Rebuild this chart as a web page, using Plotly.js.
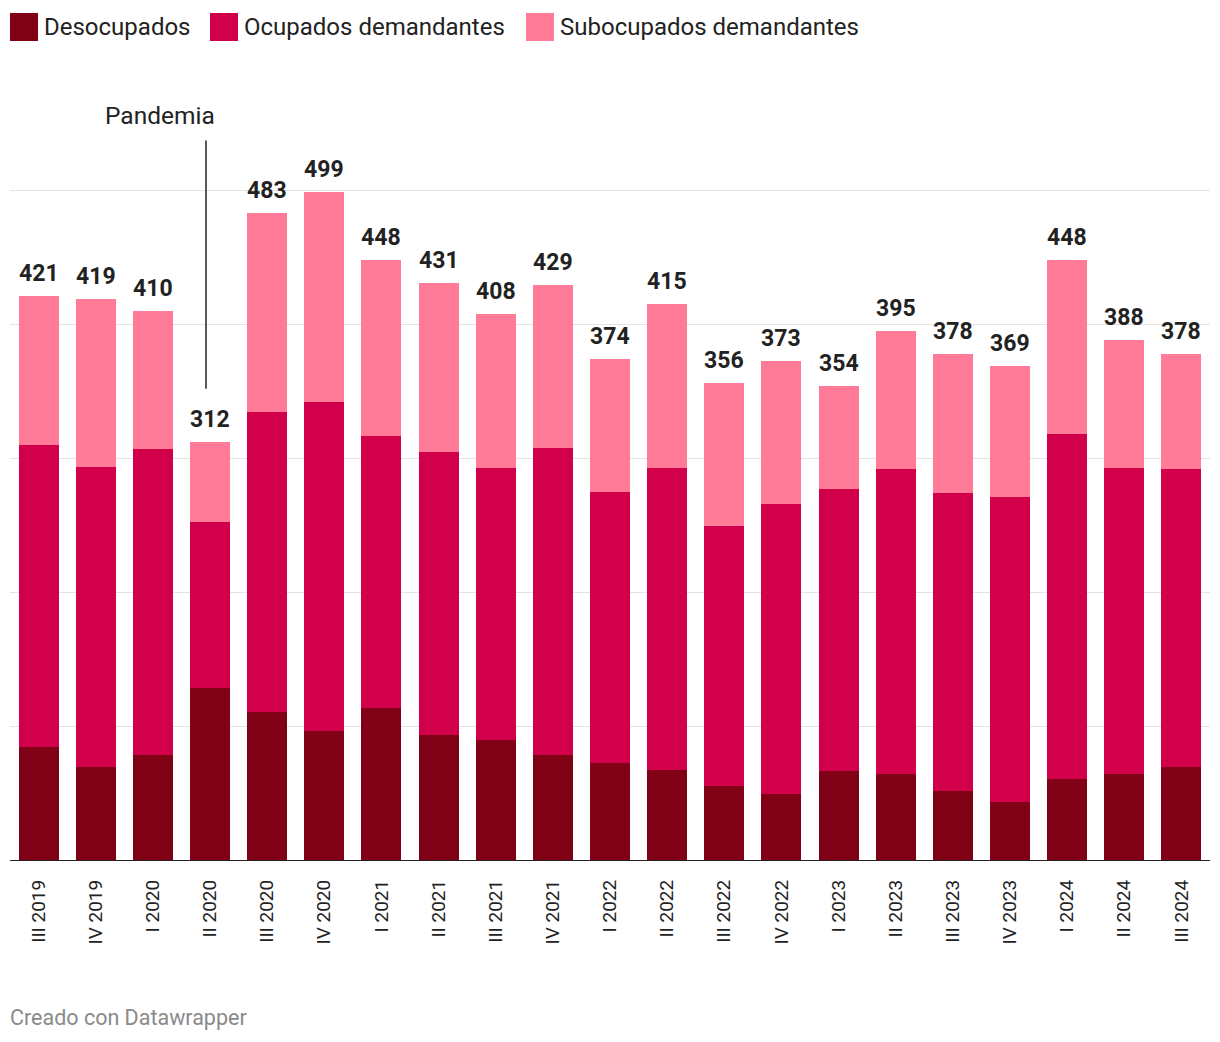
<!DOCTYPE html>
<html>
<head>
<meta charset="utf-8">
<script src="https://cdn.plot.ly/plotly-3.0.1.min.js"></script>
<style>
html,body{margin:0;padding:0;background:#fff;}
#chart{width:1220px;height:1042px;}
</style>
</head>
<body>
<div id="chart"></div>
<script>
const categories = ["III 2019","IV 2019","I 2020","II 2020","III 2020","IV 2020","I 2021","II 2021","III 2021","IV 2021","I 2022","II 2022","III 2022","IV 2022","I 2023","II 2023","III 2023","IV 2023","I 2024","II 2024","III 2024"];
const desocupados = [85,70,79,129,111,97,114,94,90,79,73,68,56,50,67,65,52,44,61,65,70];
const ocupados = [225,224,228,124,224,245,203,211,203,229,202,225,194,216,210,227,222,227,257,228,222];
const subocupados = [111,125,103,59,148,157,131,126,115,121,99,122,106,107,77,103,104,98,130,95,86];
const totals = [421,419,410,312,483,499,448,431,408,429,374,415,356,373,354,395,378,369,448,388,378];
const seriesNames = ["Desocupados","Ocupados demandantes","Subocupados demandantes"];
const seriesColors = ["#800016","#d2004b","#ff7b98"];

const x = categories.map((c,i)=>i);
const FONT = "Roboto, 'Noto Sans', sans-serif";

const traces = [desocupados, ocupados, subocupados].map((vals, k) => ({
  type: 'bar', x: x, y: vals, name: seriesNames[k],
  marker: {color: seriesColors[k], line: {width: 0}},
  hoverinfo: 'skip', showlegend: false
}));

// plot area: x 10..1210, baseline y=861, range 0..600
const L = 10, R = 1210, B = 861, T = 56;
const px2paperX = p => (p - L) / (R - L);
const px2paperY = p => (B - p) / (B - T);

const shapes = [
  {type:'line', xref:'paper', yref:'y', x0:0, x1:1, y0:0, y1:0, line:{color:'#222', width:2}, layer:'above'},
  {type:'line', xref:'x', yref:'y', x0:2.93, x1:2.93, y0:352, y1:537, line:{color:'#222', width:1.5}}
];
const annotations = [
  {xref:'x', yref:'y', x:2.12, y:556, text:'Pandemia', showarrow:false,
   font:{family:FONT, size:24.5, color:'#222'}, xanchor:'center', yanchor:'middle'},
  {xref:'paper', yref:'paper', x:px2paperX(8), y:px2paperY(1017), text:'Creado con Datawrapper', showarrow:false,
   font:{family:FONT, size:21.5, color:'#8a8a8a'}, xanchor:'left', yanchor:'middle'}
];
// total labels
totals.forEach((t,i)=>{
  annotations.push({xref:'x', yref:'y', x:i, y:t, text:String(t), showarrow:false,
    xanchor:'center', yanchor:'bottom', yshift:7,
    font:{family:FONT, size:23, color:'#222', weight:'bold'}});
});
// custom legend
const legendSquares = [10, 210, 526];
seriesNames.forEach((n,k)=>{
  const x0 = legendSquares[k];
  shapes.push({type:'rect', xref:'paper', yref:'paper', x0:px2paperX(x0), x1:px2paperX(x0+28), y0:px2paperY(41), y1:px2paperY(13), fillcolor:seriesColors[k], line:{width:0}});
  annotations.push({xref:'paper', yref:'paper', x:px2paperX(x0+32), y:px2paperY(27), text:n, showarrow:false,
    font:{family:FONT, size:24, color:'#222'}, xanchor:'left', yanchor:'middle'});
});

const layout = {
  width: 1220, height: 1042,
  margin: {l: L, r: 1220 - R, t: T, b: 1042 - B, pad: 0},
  paper_bgcolor: '#fff', plot_bgcolor: '#fff',
  barmode: 'stack', bargap: 0.3,
  showlegend: false,
  xaxis: {
    range: [-0.5, categories.length - 0.5],
    tickmode: 'array', tickvals: x, ticktext: categories,
    tickangle: -90, tickfont: {family: FONT, size: 19, color: '#222'},
    ticklabelstandoff: 14,
    showgrid: false, zeroline: false, showline: false, ticks: '', fixedrange: true
  },
  yaxis: {
    range: [0, 600], tickmode: 'array', tickvals: [0,100,200,300,400,500],
    showticklabels: false, showgrid: true, gridcolor: '#e3e3e3', gridwidth: 1,
    zeroline: false, showline: false, ticks: '', fixedrange: true
  },
  shapes: shapes, annotations: annotations,
  font: {family: FONT}
};

Plotly.newPlot('chart', traces, layout, {displayModeBar: false, staticPlot: true});
</script>
</body>
</html>
